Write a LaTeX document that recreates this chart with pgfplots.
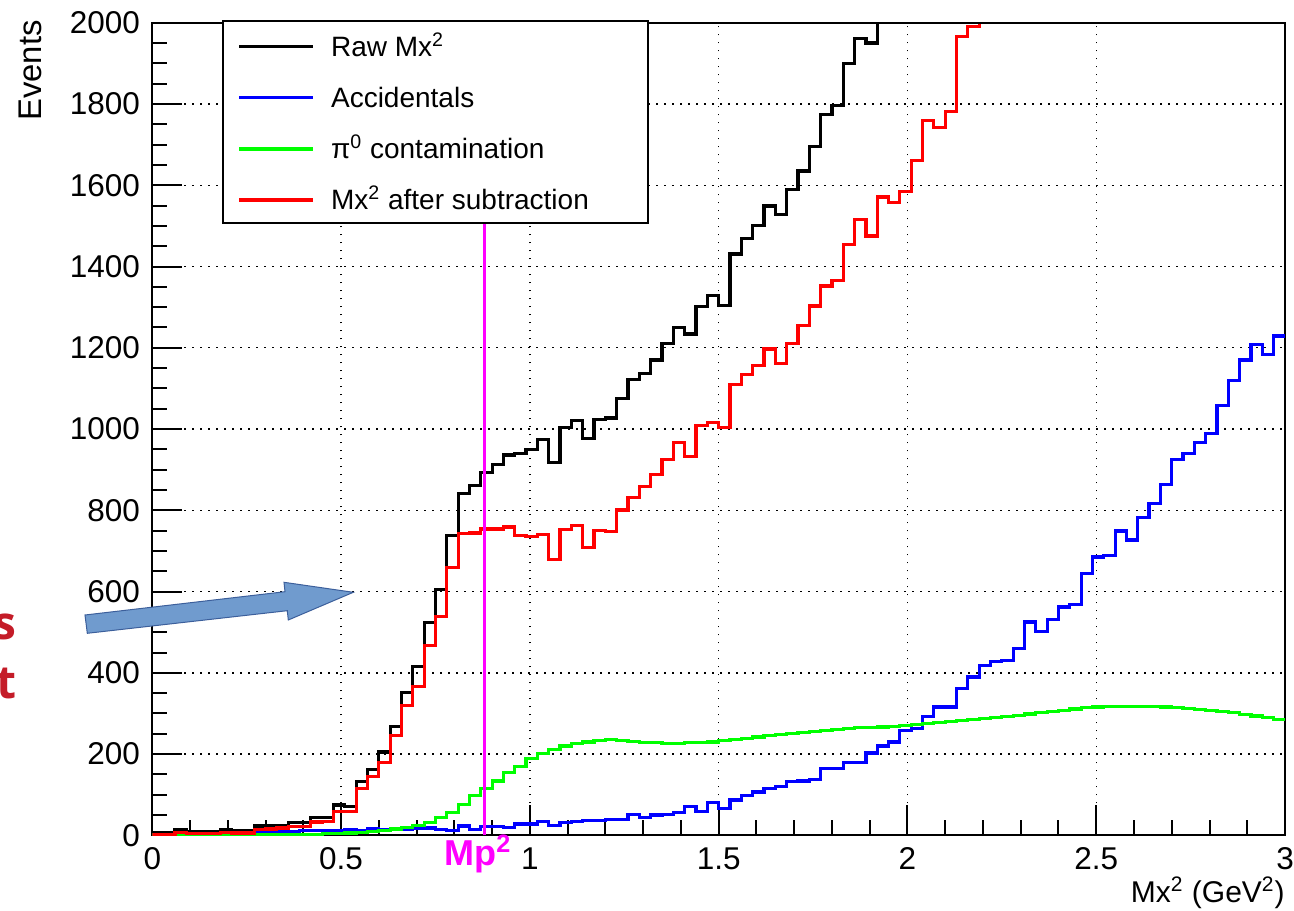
\documentclass[border=0pt]{standalone}
\usepackage{fontspec}
\setmainfont{Liberation Sans}
\newfontfamily\slidefont{Open Sans}
\usepackage{pgfplots}
\usepackage{pgfplotstable}
\pgfplotsset{compat=1.18}
\definecolor{arrowfill}{RGB}{112,155,206}
\definecolor{arrowdraw}{RGB}{60,95,155}
\definecolor{slidered}{RGB}{196,28,40}
\definecolor{rootmagenta}{RGB}{255,0,255}
\definecolor{rootgreen}{RGB}{0,255,0}
\definecolor{rootblue}{RGB}{0,0,255}
\definecolor{rootred}{RGB}{255,0,0}
\pgfplotstableread{
x raw acc pi sub
0.00 7 2 1 3
0.03 7 2 1 3
0.06 15 3 1 8
0.09 9 3 1 4
0.12 9 3 1 4
0.15 9 4 1 4
0.18 15 4 1 8
0.21 12 5 1 6
0.24 12 5 1 6
0.27 23 8 1 14
0.30 23 8 1 16
0.33 25 10 2 18
0.36 31 10 2 21
0.39 31 12 3 22
0.42 44 12 3 33
0.45 45 13 4 34
0.48 75 13 5 58
0.51 71 14 6 58
0.54 132 11 8 116
0.57 162 17 10 144
0.60 205 15 13 180
0.63 268 14 16 245
0.66 352 15 20 320
0.69 415 18 25 367
0.72 523 18 32 468
0.75 605 15 44 539
0.78 738 13 57 659
0.81 842 23 76 742
0.84 861 15 98 744
0.87 894 21 116 754
0.90 912 21 134 754
0.93 936 20 154 759
0.96 940 28 169 739
0.99 950 28 189 735
1.02 975 34 202 740
1.05 917 25 211 678
1.08 1003 32 220 753
1.11 1022 34 226 762
1.14 976 36 230 709
1.17 1023 36 234 750
1.20 1027 39 236 748
1.23 1076 39 234 801
1.26 1121 52 232 832
1.29 1137 44 229 858
1.32 1170 50 228 888
1.35 1211 52 227 926
1.38 1250 56 227 967
1.41 1234 72 228 932
1.44 1302 58 229 1008
1.47 1328 80 230 1017
1.50 1305 66 233 1003
1.53 1431 87 236 1109
1.56 1468 99 238 1135
1.59 1500 107 242 1156
1.62 1549 116 245 1197
1.65 1528 121 248 1162
1.68 1590 132 251 1211
1.71 1635 134 254 1254
1.74 1696 138 256 1303
1.77 1774 165 259 1352
1.80 1796 165 261 1366
1.83 1899 179 264 1455
1.86 1961 179 265 1516
1.89 1950 203 266 1475
1.92 2000 220 267 1571
1.95 2000 230 268 1557
1.98 2000 259 270 1584
2.01 2000 263 272 1661
2.04 2000 292 275 1759
2.07 2000 316 278 1743
2.10 2000 316 280 1782
2.13 2000 361 283 1967
2.16 2000 390 285 1991
2.19 2000 419 288 2000
2.22 2000 427 290 2000
2.25 2000 431 293 2000
2.28 2000 460 296 2000
2.31 2000 525 299 2000
2.34 2000 501 302 2000
2.37 2000 531 305 2000
2.40 2000 562 308 2000
2.43 2000 568 311 2000
2.46 2000 644 314 2000
2.49 2000 685 316 2000
2.52 2000 689 317 2000
2.55 2000 749 318 2000
2.58 2000 727 318 2000
2.61 2000 783 318 2000
2.64 2000 817 317 2000
2.67 2000 863 316 2000
2.70 2000 926 314 2000
2.73 2000 939 312 2000
2.76 2000 966 310 2000
2.79 2000 989 307 2000
2.82 2000 1057 305 2000
2.85 2000 1119 302 2000
2.88 2000 1170 298 2000
2.91 2000 1209 294 2000
2.94 2000 1183 290 2000
2.97 2000 1229 285 2000
3.00 2000 1229 285 2000
}\histdata

\begin{document}
\begin{tikzpicture}
\begin{axis}[
  at={(0,0)}, anchor=south west,
  scale only axis, width=566.35pt, height=406.35pt,
  xmin=0, xmax=3, ymin=0, ymax=2000,
  xtick={0,0.5,1,1.5,2,2.5,3},
  ytick={0,200,400,600,800,1000,1200,1400,1600,1800,2000},
  minor x tick num=4, minor y tick num=3,
  tick align=inside, xtick pos=bottom, ytick pos=left,
  major tick length=15pt, minor tick length=7.5pt,
  tick style={black, line width=1pt},
  axis line style={line width=1pt},
  grid=major,
  major grid style={black, line width=0.7pt, dash pattern=on 0.7pt off 3.3pt},
  /pgf/number format/assume math mode=true,
  /pgf/number format/1000 sep={},
  ticklabel style={font=\fontsize{15.75}{18}\selectfont},
  xticklabel style={anchor=north, inner sep=0pt, yshift=-6pt},
  yticklabel style={anchor=east, inner sep=0pt, xshift=-6pt},
]
\addplot[const plot, black, line width=1.6pt] table[x=x,y=raw]{\histdata};
\addplot[const plot, rootblue, line width=1.6pt] table[x=x,y=acc]{\histdata};
\addplot[const plot, rootgreen, line width=1.6pt] table[x=x,y=pi]{\histdata};
\addplot[const plot, rootred, line width=1.6pt] table[x=x,y=sub]{\histdata};
\addplot[rootmagenta, line width=1.5pt] coordinates {(0.88,0) (0.88,2000)};
\end{axis}
% frame top redrawn over clipped histograms
\draw[line width=1pt] (0,406.35pt) -- (566.35pt,406.35pt);
% legend
\draw[line width=1pt, fill=white] (35.5pt,306.2pt) rectangle (247.85pt,407.35pt);
\draw[black, line width=1.6pt] (43.5pt,394.35pt) -- (80.5pt,394.35pt);
\draw[rootblue, line width=1.6pt] (43.5pt,368.85pt) -- (80.5pt,368.85pt);
\draw[rootgreen, line width=1.6pt] (43.5pt,343.2pt) -- (80.5pt,343.2pt);
\draw[rootred, line width=1.6pt] (43.5pt,317.7pt) -- (80.5pt,317.7pt);
\begin{scope}[every node/.style={anchor=base west, inner sep=0pt, font=\fontsize{14}{16}\selectfont}]
\node at (89.2pt,389.35pt) {Raw Mx\textsuperscript{2}};
\node at (89.2pt,363.85pt) {Accidentals};
\node at (89.2pt,338.2pt) {π\textsuperscript{0} contamination};
\node at (89.2pt,312.7pt) {Mx\textsuperscript{2} after subtraction};
\end{scope}
% axis titles
\node[rotate=90, anchor=base east, inner sep=0pt, font=\fontsize{16.4}{18}\selectfont] at (-55.15pt,407.7pt) {Events};
\node[anchor=base east, inner sep=0pt, font=\fontsize{15}{18}\selectfont] at (566.35pt,-33.3pt) {Mx\textsuperscript{2} (GeV\textsuperscript{2})};
% Mp^2 label
\node[anchor=base west, inner sep=0pt, text=rootmagenta, font=\bfseries\fontsize{18}{20}\selectfont] at (145.8pt,-14.8pt) {Mp\textsuperscript{2}};
% slide arrow
\draw[arrowdraw, fill=arrowfill, line width=0.5pt] (-33.65pt,110.2pt) -- (66.35pt,121.85pt) -- (65.85pt,126.55pt) -- (100.5pt,121.55pt) -- (68pt,107.7pt) -- (67.5pt,112.35pt) -- (-32.5pt,101.05pt) -- cycle;
% slide text, cut off at the left edge as in the reference
\node[anchor=base east, inner sep=0pt, text=slidered, font=\slidefont\bfseries\fontsize{23}{26}\selectfont] at (-67.65pt,97.7pt) {s};
\node[anchor=base east, inner sep=0pt, text=slidered, font=\slidefont\bfseries\fontsize{23}{26}\selectfont] at (-67.65pt,68.7pt) {t};
\pgfresetboundingbox
\useasboundingbox (-76.15pt,-37.3pt) rectangle (570.85pt,417.7pt);
\end{tikzpicture}
\end{document}
